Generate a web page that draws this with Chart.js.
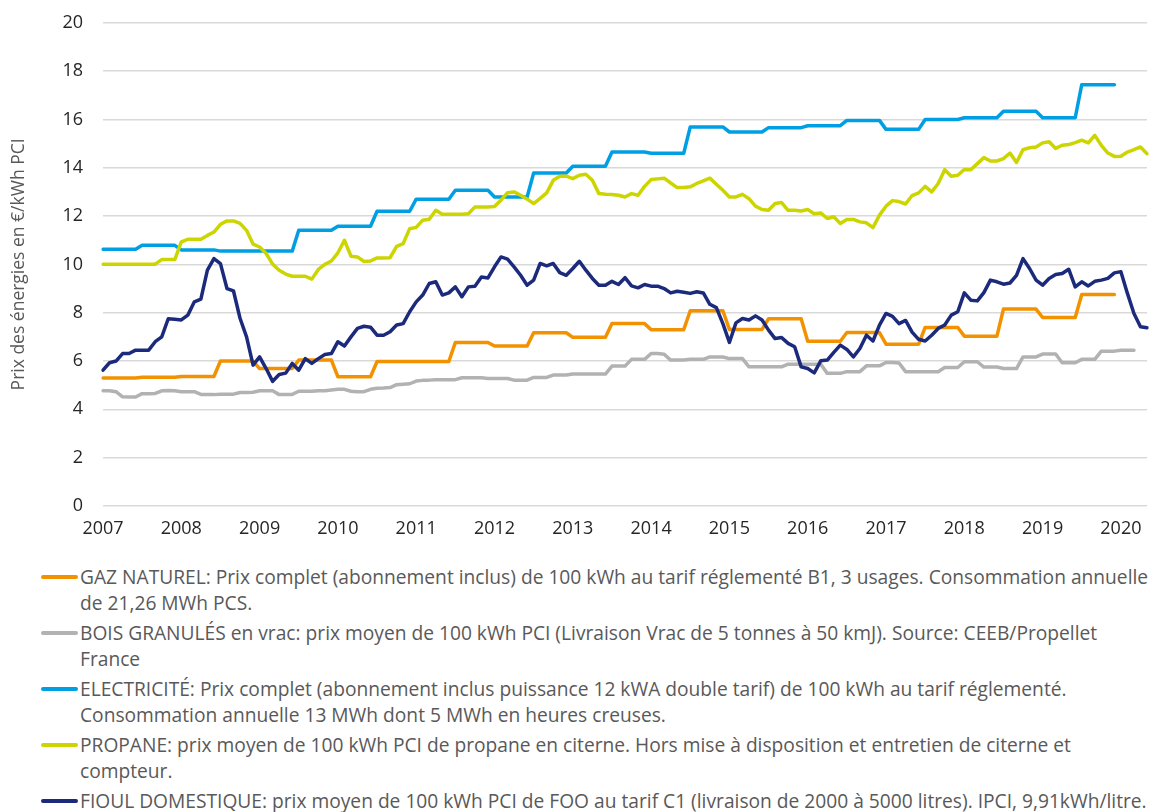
<!DOCTYPE html>
<html lang="fr">
<head>
<meta charset="utf-8">
<title>Prix des énergies</title>
<script src="https://cdn.jsdelivr.net/npm/chart.js@4.4.1/dist/chart.umd.min.js"></script>
<style>
  body { margin: 0; background: #fff; width: 1159px; height: 812px; overflow: hidden; font-family: "Open Sans", Lato, sans-serif; }
  #wrap { position: absolute; left: 0; top: -8px; width: 1159px; height: 548px; }
  #legende { position: absolute; left: 41px; top: 564px; color: #595959; font-size: 19.2px; line-height: 26px; }
  .item { position: relative; padding-left: 39px; margin-bottom: 4px; white-space: nowrap; }
  .item i { position: absolute; left: 0; top: 11px; width: 37px; height: 3.5px; border-radius: 2px; }
</style>
</head>
<body>
<div id="wrap"><canvas id="myChart"></canvas></div>
<div id="legende"></div>
<script>
// axes
const years = [2007, 2008, 2009, 2010, 2011, 2012, 2013, 2014, 2015, 2016, 2017, 2018, 2019, 2020];
const nbMois = 161; // janv. 2007 -> mai 2020
const months = [];
for (let i = 0; i < nbMois; i++) {
    months.push(years[Math.floor(i / 12)] + '-' + String(i % 12 + 1).padStart(2, '0'));
}

// prix en €/kWh PCI (valeurs mensuelles)
const gaz = [
    5.30, 5.30, 5.30, 5.30, 5.30, 5.30, 5.33, 5.33, 5.33, 5.33, 5.33, 5.33,
    5.36, 5.36, 5.36, 5.36, 5.36, 5.36, 6.00, 6.00, 6.00, 6.00, 6.00, 6.00,
    5.69, 5.69, 5.69, 5.69, 5.69, 5.69, 6.04, 6.04, 6.04, 6.04, 6.04, 6.04,
    5.35, 5.35, 5.35, 5.35, 5.35, 5.35, 5.98, 5.98, 5.98, 5.98, 5.98, 5.98,
    5.98, 5.98, 5.98, 5.98, 5.98, 5.98, 6.77, 6.77, 6.77, 6.77, 6.77, 6.77,
    6.62, 6.62, 6.62, 6.62, 6.62, 6.62, 7.17, 7.17, 7.17, 7.17, 7.17, 7.17,
    6.98, 6.98, 6.98, 6.98, 6.98, 6.98, 7.55, 7.55, 7.55, 7.55, 7.55, 7.55,
    7.30, 7.30, 7.30, 7.30, 7.30, 7.30, 8.08, 8.08, 8.08, 8.08, 8.08, 8.08,
    7.31, 7.31, 7.31, 7.31, 7.31, 7.31, 7.75, 7.75, 7.75, 7.75, 7.75, 7.75,
    6.82, 6.82, 6.82, 6.82, 6.82, 6.82, 7.18, 7.18, 7.18, 7.18, 7.18, 7.18,
    6.70, 6.70, 6.70, 6.70, 6.70, 6.70, 7.39, 7.39, 7.39, 7.39, 7.39, 7.39,
    7.03, 7.03, 7.03, 7.03, 7.03, 7.03, 8.15, 8.15, 8.15, 8.15, 8.15, 8.15,
    7.80, 7.80, 7.80, 7.80, 7.80, 7.80, 8.75, 8.75, 8.75, 8.75, 8.75, 8.75
];
const bois = [
    4.77, 4.77, 4.73, 4.52, 4.51, 4.51, 4.65, 4.65, 4.66, 4.77, 4.78, 4.77,
    4.73, 4.73, 4.73, 4.62, 4.61, 4.61, 4.63, 4.63, 4.63, 4.70, 4.70, 4.71,
    4.77, 4.77, 4.77, 4.61, 4.61, 4.62, 4.75, 4.75, 4.75, 4.77, 4.77, 4.80,
    4.83, 4.83, 4.75, 4.73, 4.73, 4.83, 4.87, 4.88, 4.90, 5.02, 5.04, 5.06,
    5.17, 5.20, 5.21, 5.23, 5.23, 5.23, 5.23, 5.31, 5.31, 5.31, 5.31, 5.28,
    5.28, 5.28, 5.28, 5.21, 5.21, 5.21, 5.32, 5.32, 5.32, 5.42, 5.42, 5.42,
    5.46, 5.46, 5.46, 5.46, 5.46, 5.46, 5.79, 5.79, 5.79, 6.07, 6.07, 6.07,
    6.31, 6.31, 6.28, 6.04, 6.04, 6.04, 6.07, 6.07, 6.07, 6.17, 6.17, 6.17,
    6.10, 6.10, 6.10, 5.76, 5.76, 5.76, 5.76, 5.76, 5.76, 5.87, 5.87, 5.87,
    5.87, 5.87, 5.87, 5.49, 5.49, 5.49, 5.56, 5.56, 5.56, 5.80, 5.80, 5.80,
    5.94, 5.94, 5.92, 5.56, 5.56, 5.56, 5.56, 5.56, 5.56, 5.73, 5.73, 5.73,
    5.97, 5.97, 5.97, 5.75, 5.75, 5.75, 5.69, 5.69, 5.69, 6.17, 6.17, 6.17,
    6.29, 6.29, 6.29, 5.93, 5.93, 5.93, 6.07, 6.07, 6.07, 6.41, 6.41, 6.41,
    6.45, 6.45, 6.45
];
const electricite = [
    10.63, 10.63, 10.63, 10.63, 10.63, 10.63, 10.79, 10.79, 10.79, 10.79, 10.79, 10.79,
    10.60, 10.60, 10.60, 10.60, 10.60, 10.60, 10.55, 10.55, 10.55, 10.55, 10.55, 10.55,
    10.55, 10.55, 10.55, 10.55, 10.55, 10.55, 11.41, 11.41, 11.41, 11.41, 11.41, 11.41,
    11.58, 11.58, 11.58, 11.58, 11.58, 11.58, 12.20, 12.20, 12.20, 12.20, 12.20, 12.20,
    12.70, 12.70, 12.70, 12.70, 12.70, 12.70, 13.07, 13.07, 13.07, 13.07, 13.07, 13.07,
    12.79, 12.79, 12.79, 12.79, 12.79, 12.79, 13.78, 13.78, 13.78, 13.78, 13.78, 13.78,
    14.06, 14.06, 14.06, 14.06, 14.06, 14.06, 14.65, 14.65, 14.65, 14.65, 14.65, 14.65,
    14.60, 14.60, 14.60, 14.60, 14.60, 14.60, 15.69, 15.69, 15.69, 15.69, 15.69, 15.69,
    15.48, 15.48, 15.48, 15.48, 15.48, 15.48, 15.66, 15.66, 15.66, 15.66, 15.66, 15.66,
    15.74, 15.74, 15.74, 15.74, 15.74, 15.74, 15.96, 15.96, 15.96, 15.96, 15.96, 15.96,
    15.59, 15.59, 15.59, 15.59, 15.59, 15.59, 16.00, 16.00, 16.00, 16.00, 16.00, 16.00,
    16.07, 16.07, 16.07, 16.07, 16.07, 16.07, 16.34, 16.34, 16.34, 16.34, 16.34, 16.34,
    16.07, 16.07, 16.07, 16.07, 16.07, 16.07, 17.44, 17.44, 17.44, 17.44, 17.44, 17.44
];
const propane = [
    10.01, 10.01, 10.01, 10.01, 10.01, 10.01, 10.01, 10.01, 10.01, 10.20, 10.20, 10.20,
    10.93, 11.04, 11.04, 11.04, 11.20, 11.34, 11.66, 11.80, 11.80, 11.70, 11.41, 10.84,
    10.72, 10.45, 10.01, 9.76, 9.60, 9.51, 9.51, 9.51, 9.39, 9.79, 10.00, 10.14,
    10.48, 11.00, 10.34, 10.31, 10.12, 10.14, 10.27, 10.27, 10.28, 10.75, 10.86, 11.48,
    11.53, 11.83, 11.87, 12.24, 12.08, 12.08, 12.08, 12.08, 12.10, 12.38, 12.38, 12.38,
    12.40, 12.66, 12.97, 13.00, 12.86, 12.70, 12.52, 12.73, 12.96, 13.48, 13.65, 13.65,
    13.55, 13.69, 13.73, 13.48, 12.93, 12.90, 12.89, 12.86, 12.79, 12.93, 12.86, 13.23,
    13.51, 13.54, 13.57, 13.37, 13.18, 13.18, 13.21, 13.35, 13.46, 13.57, 13.32, 13.07,
    12.79, 12.79, 12.90, 12.72, 12.41, 12.27, 12.24, 12.52, 12.56, 12.24, 12.24, 12.21,
    12.27, 12.10, 12.13, 11.90, 11.97, 11.69, 11.86, 11.86, 11.76, 11.72, 11.52, 12.04,
    12.41, 12.64, 12.60, 12.50, 12.85, 12.96, 13.23, 13.00, 13.35, 13.92, 13.65, 13.69,
    13.93, 13.92, 14.17, 14.42, 14.28, 14.28, 14.38, 14.61, 14.22, 14.75, 14.83, 14.86,
    15.03, 15.08, 14.80, 14.93, 14.96, 15.04, 15.14, 15.03, 15.34, 14.93, 14.61, 14.47,
    14.48, 14.65, 14.75, 14.86, 14.58
];
const fioul = [
    5.62, 5.93, 6.00, 6.31, 6.31, 6.45, 6.45, 6.45, 6.80, 7.00, 7.75, 7.73,
    7.70, 7.90, 8.45, 8.56, 9.76, 10.24, 10.03, 9.00, 8.90, 7.77, 7.00, 5.83,
    6.17, 5.69, 5.16, 5.44, 5.50, 5.90, 5.62, 6.10, 5.90, 6.10, 6.27, 6.31,
    6.80, 6.62, 7.00, 7.35, 7.44, 7.40, 7.07, 7.07, 7.21, 7.49, 7.55, 8.04,
    8.45, 8.73, 9.21, 9.28, 8.73, 8.82, 9.07, 8.66, 9.07, 9.10, 9.48, 9.44,
    9.90, 10.31, 10.22, 9.90, 9.55, 9.14, 9.35, 10.04, 9.94, 10.04, 9.66, 9.55,
    9.83, 10.13, 9.76, 9.42, 9.14, 9.14, 9.30, 9.17, 9.45, 9.11, 9.03, 9.17,
    9.10, 9.10, 9.00, 8.82, 8.89, 8.85, 8.80, 8.87, 8.82, 8.35, 8.21, 7.55,
    6.77, 7.58, 7.76, 7.70, 7.87, 7.70, 7.28, 6.93, 6.97, 6.73, 6.59, 5.76,
    5.69, 5.51, 6.01, 6.04, 6.36, 6.66, 6.48, 6.17, 6.52, 7.07, 6.83, 7.49,
    7.97, 7.85, 7.55, 7.68, 7.20, 6.90, 6.83, 7.07, 7.35, 7.49, 7.90, 8.04,
    8.82, 8.52, 8.49, 8.83, 9.35, 9.28, 9.18, 9.23, 9.55, 10.24, 9.83, 9.35,
    9.14, 9.42, 9.58, 9.62, 9.80, 9.07, 9.28, 9.11, 9.30, 9.35, 9.42, 9.65,
    9.70, 8.80, 7.97, 7.42, 7.38
];

const series = [
    { label: 'GAZ NATUREL', data: gaz, color: '#F39200', order: 5,
      texte: 'GAZ NATUREL: Prix complet (abonnement inclus) de 100 kWh au tarif réglementé B1, 3 usages. Consommation annuelle<br>de 21,26 MWh PCS.' },
    { label: 'BOIS GRANULÉS', data: bois, color: '#B2B2B2', order: 4,
      texte: 'BOIS GRANULÉS en vrac: prix moyen de 100 kWh PCI (Livraison Vrac de 5 tonnes à 50 kmJ). Source: CEEB/Propellet<br>France' },
    { label: 'ELECTRICITÉ', data: electricite, color: '#009FE3', order: 3,
      texte: 'ELECTRICITÉ: Prix complet (abonnement inclus puissance 12 kWA double tarif) de 100 kWh au tarif réglementé.<br>Consommation annuelle 13 MWh dont 5 MWh en heures creuses.' },
    { label: 'PROPANE', data: propane, color: '#CDD500', order: 2,
      texte: 'PROPANE: prix moyen de 100 kWh PCI de propane en citerne. Hors mise à disposition et entretien de citerne et<br>compteur.' },
    { label: 'FIOUL DOMESTIQUE', data: fioul, color: '#1C2A7C', order: 1,
      texte: 'FIOUL DOMESTIQUE: prix moyen de 100 kWh PCI de FOO au tarif C1 (livraison de 2000 à 5000 litres). IPCI, 9,91kWh/litre.' }
];

const police = '"Open Sans", Lato, sans-serif';

new Chart(document.querySelector('#myChart'), {
    type: 'line',
    data: {
        labels: months,
        datasets: series.map(s => ({
            label: s.label,
            data: s.data,
            borderColor: s.color,
            backgroundColor: s.color,
            borderWidth: 3.5,
            pointRadius: 0,
            tension: 0,
            borderJoinStyle: 'round',
            borderCapStyle: 'round',
            order: s.order
        }))
    },
    options: {
        responsive: true,
        maintainAspectRatio: false,
        animation: false,
        layout: { padding: { top: 13, right: 8, bottom: 0, left: 0 } },
        plugins: {
            legend: { display: false },
            tooltip: { enabled: false }
        },
        scales: {
            x: {
                type: 'category',
                offset: false,
                grid: { display: false, drawTicks: false },
                border: { display: false },
                ticks: {
                    autoSkip: false,
                    maxRotation: 0,
                    padding: 12,
                    color: '#262626',
                    font: { family: police, size: 18 },
                    callback: (v, i) => i % 12 === 0 ? String(years[i / 12]) : ''
                },
                afterFit: s => { s.height = 34; }
            },
            y: {
                min: 0,
                max: 20,
                ticks: {
                    stepSize: 2,
                    padding: 20,
                    color: '#262626',
                    font: { family: police, size: 18 }
                },
                grid: { color: '#D9D9D9', lineWidth: 1.5, drawTicks: false },
                border: { display: false },
                title: {
                    display: true,
                    text: 'Prix des énergies en €/kWh PCI',
                    color: '#595959',
                    padding: { top: 9, bottom: 0 },
                    font: { family: police, size: 17.5 }
                },
                afterFit: s => { s.width = 103; }
            }
        }
    }
});

// légende sous le graphique
const leg = document.querySelector('#legende');
series.forEach(s => {
    const d = document.createElement('div');
    d.className = 'item';
    d.innerHTML = '<i style="background:' + s.color + '"></i>' + s.texte;
    leg.appendChild(d);
});
</script>
</body>
</html>
